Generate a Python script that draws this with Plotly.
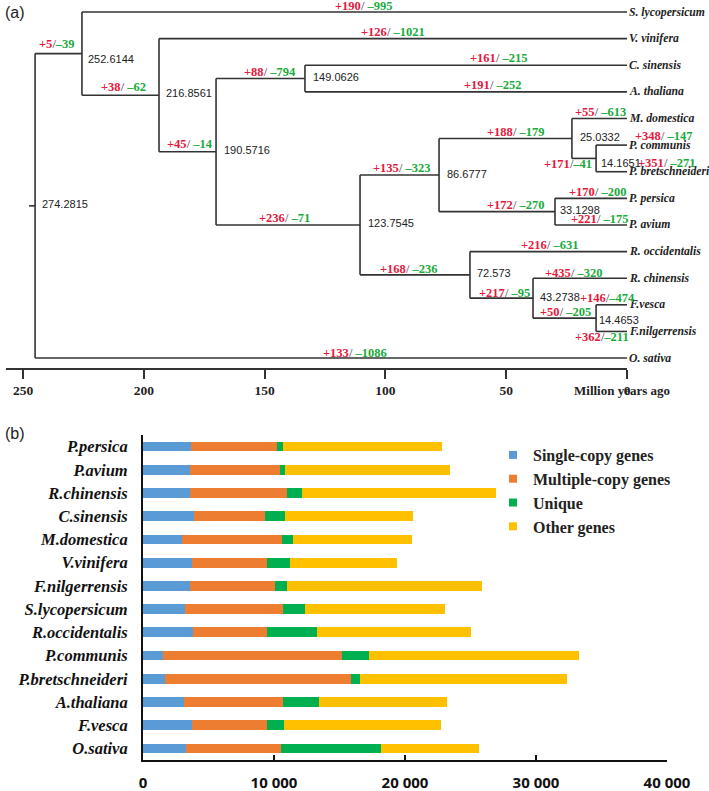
import plotly.graph_objects as go

# ---------------- Panel (a): phylogenetic tree data ----------------
leaves = ["S. lycopersicum", "V. vinifera", "C. sinensis", "A. thaliana", "M. domestica",
          "P. communis", "P. bretschneideri", "P. persica", "P. avium", "R. occidentalis",
          "R. chinensis", "F.vesca", "F.nilgerrensis", "O. sativa"]

node_names = ["N274", "N252", "N216", "N190", "N149", "N123", "N86", "N25", "N14a",
              "N33", "N72", "N43", "N14b"]
node_children = [("N252", "O. sativa"), ("S. lycopersicum", "N216"), ("V. vinifera", "N190"),
                 ("N149", "N123"), ("C. sinensis", "A. thaliana"), ("N86", "N72"),
                 ("N25", "N33"), ("M. domestica", "N14a"), ("P. communis", "P. bretschneideri"),
                 ("P. persica", "P. avium"), ("R. occidentalis", "N43"), ("R. chinensis", "N14b"),
                 ("F.vesca", "F.nilgerrensis")]
# node positions as drawn on the time axis (million years ago)
node_age_drawn = [245.0, 225.6, 193.7, 170.1, 133.3, 110.5, 77.8, 22.8, 12.8, 29.8, 65.0, 38.9, 12.8]
node_age_label = ["274.2815", "252.6144", "216.8561", "190.5716", "149.0626", "123.7545",
                  "86.6777", "25.0332", "14.1651", "33.1298", "72.573", "43.2738", "14.4653"]

branch_child = ["N252", "S. lycopersicum", "N216", "V. vinifera", "N190", "N149", "C. sinensis",
                "A. thaliana", "N123", "N86", "N72", "N25", "N33", "M. domestica", "N14a",
                "P. communis", "P. bretschneideri", "P. persica", "P. avium", "R. occidentalis",
                "N43", "R. chinensis", "N14b", "F.vesca", "F.nilgerrensis", "O. sativa"]
branch_gain = [5, 190, 38, 126, 45, 88, 161, 191, 236, 135, 168, 188, 172, 55, 171,
               348, 351, 170, 221, 216, 217, 435, 50, 146, 362, 133]
branch_loss = [39, 995, 62, 1021, 14, 794, 215, 252, 71, 323, 236, 179, 270, 613, 41,
               147, 271, 200, 175, 631, 95, 320, 205, 474, 211, 1086]

time_ticks = [0, 50, 100, 150, 200, 250]

# ---------------- Panel (b): gene family bars ----------------
species = ["P.persica", "P.avium", "R.chinensis", "C.sinensis", "M.domestica", "V.vinifera",
           "F.nilgerrensis", "S.lycopersicum", "R.occidentalis", "P.communis",
           "P.bretschneideri", "A.thaliana", "F.vesca", "O.sativa"]
single_copy = [3660, 3590, 3590, 3890, 3000, 3740, 3590, 3210, 3840, 1550, 1680, 3130, 3770, 3280]
multiple_copy = [6540, 6870, 7430, 5420, 7610, 5700, 6510, 7510, 5600, 13660, 14200, 7580, 5730, 7250]
unique = [460, 380, 1090, 1550, 870, 1810, 920, 1680, 3870, 2060, 710, 2720, 1250, 7630]
other_genes = [12180, 12570, 14810, 9720, 9060, 8120, 14830, 10660, 11700, 16000, 15750, 9750, 11980, 7480]
series_names = ["Single-copy genes", "Multiple-copy genes", "Unique", "Other genes"]
gene_ticks = [0, 10000, 20000, 30000, 40000]
gene_ticktext = ["0", "10 000", "20 000", "30 000", "40 000"]

# ---------------- styles / layout helpers ----------------
W, H = 709, 791
RED, GREEN = "#e8173d", "#1aab3c"
LINE = "#333333"
SERIF = "Liberation Serif"
SANS = "Liberation Sans"
colors = ["#5b9bd5", "#ed7d31", "#00b050", "#ffc000"]

# gain/loss label pixel offsets relative to branch midpoint (dx, dy up), compact slash flag
gl_offsets = {
    "N252": (-2, 10, True), "S. lycopersicum": (9.5, 6, False), "N216": (3, 8, False),
    "V. vinifera": (0, 6.6, False), "N190": (2.5, 7.8, False), "N149": (9.5, 6.6, False),
    "C. sinensis": (32.5, 7, False), "A. thaliana": (26.5, 7, False), "N123": (-4, 7, False),
    "N86": (1.5, 7, False), "N72": (-7, 6, False), "N25": (10, 6.4, False),
    "N33": (18.5, 6.7, False), "M. domestica": (1, 6.5, False), "N14a": (-16, -5.6, True),
    "P. communis": (52, 9, False), "P. bretschneideri": (55, 8.7, False),
    "P. persica": (6, 6.3, False), "P. avium": (8, 6, False), "R. occidentalis": (1.5, 6.6, False),
    "N43": (3, 5.2, False), "R. chinensis": (-6.5, 5.2, False), "N14b": (1, 6, False),
    "F.vesca": (-4.5, 6.8, True), "F.nilgerrensis": (-10, -5.6, True), "O. sativa": (24, 5, False),
}
node_label_offsets = {
    "N274": (5, 2), "N252": (4, -5.5), "N216": (5, 2), "N190": (6, 2), "N149": (6, 1.5),
    "N123": (6, 2), "N86": (6, 1), "N25": (6, 1.4), "N14a": (3, -4.6), "N33": (3, 1.7),
    "N72": (5, 2), "N43": (5, 1), "N14b": (1, -2),
}

# ---------------- tree geometry from the data ----------------
age = {n: 0.0 for n in leaves}
ypos = {n: i for i, n in enumerate(leaves)}
children = dict(zip(node_names, node_children))
parent = {}
for n, a in zip(node_names, node_age_drawn):
    age[n] = a
for n, (c1, c2) in children.items():
    parent[c1] = n
    parent[c2] = n


def y_of(n):
    if n not in ypos:
        c1, c2 = children[n]
        ypos[n] = (y_of(c1) + y_of(c2)) / 2
    return ypos[n]


root = node_names[0]
y_of(root)

lx, ly = [], []
for n in node_names:
    c1, c2 = children[n]
    lx += [age[n], age[n], None]
    ly += [y_of(c1), y_of(c2), None]
    for c in (c1, c2):
        lx += [age[n], age[c], None]
        ly += [y_of(c), y_of(c), None]
# short root stem
lx += [age[root], age[root] + 2.5, None]
ly += [y_of(root), y_of(root), None]

fig = go.Figure()
fig.add_trace(go.Scatter(x=lx, y=ly, mode="lines", line=dict(color=LINE, width=1.6),
                         hoverinfo="skip", showlegend=False, xaxis="x", yaxis="y"))

annotations = []
# leaf names
for n in leaves:
    annotations.append(dict(x=0, y=ypos[n], xref="x", yref="y", text=f"<b><i>{n}</i></b>",
                            showarrow=False, xanchor="left", yanchor="middle", xshift=0,
                            font=dict(family=SERIF, size=11.7, color="#222")))
# node ages
for n, lab in zip(node_names, node_age_label):
    dx, dy = node_label_offsets[n]
    annotations.append(dict(x=age[n], y=ypos[n], xref="x", yref="y", text=lab, showarrow=False,
                            xanchor="left", yanchor="middle", xshift=dx, yshift=dy,
                            font=dict(family=SANS, size=11, color="#222")))
# gains / losses
for c, g, l in zip(branch_child, branch_gain, branch_loss):
    dx, dy, compact = gl_offsets[c]
    p = parent[c]
    sep = "/" if compact else "/ "
    txt = (f'<b><span style="color:{RED}">+{g}</span></b>'
           f'<span style="color:#333">{sep}</span>'
           f'<b><span style="color:{GREEN}">\u2013{l}</span></b>')
    annotations.append(dict(x=(age[p] + age[c]) / 2, y=ypos[c], xref="x", yref="y", text=txt,
                            showarrow=False, xanchor="center", yanchor="middle",
                            xshift=dx, yshift=dy, font=dict(family=SERIF, size=12.5)))

annotations += [
    dict(x=622 / W, y=1 - 391 / H, xref="paper", yref="paper", text="<b>Million years ago</b>",
         showarrow=False, xanchor="center", yanchor="middle",
         font=dict(family=SERIF, size=13, color="#222")),
    dict(x=3 / W, y=1 - 13 / H, xref="paper", yref="paper", text="(a)", showarrow=False,
         xanchor="left", yanchor="middle", font=dict(family=SANS, size=16, color="#222")),
    dict(x=3 / W, y=1 - 433 / H, xref="paper", yref="paper", text="(b)", showarrow=False,
         xanchor="left", yanchor="middle", font=dict(family=SANS, size=16, color="#222")),
]

# ---------------- bars ----------------
for name, vals, col in zip(series_names, [single_copy, multiple_copy, unique, other_genes], colors):
    fig.add_trace(go.Bar(y=species, x=vals, orientation="h", name=name, marker=dict(color=col, line=dict(width=0)),
                         xaxis="x2", yaxis="y2", showlegend=False))
    fig.add_trace(go.Scatter(x=[None], y=[None], mode="markers", name=name,
                             marker=dict(symbol="square", size=8, color=col),
                             xaxis="x2", yaxis="y2", showlegend=True))

fig.update_layout(
    width=W, height=H, margin=dict(l=0, r=0, t=0, b=0, autoexpand=False), autosize=False,
    paper_bgcolor="white", plot_bgcolor="white",
    barmode="stack", bargap=0.58,
    annotations=annotations,
    xaxis=dict(domain=[6 / W, 627 / W], range=[(627 - 6) / 2.416, 0], anchor="y", automargin=False,
               showline=True, linecolor=LINE, linewidth=2, ticks="outside", ticklen=9,
               tickwidth=1.5, tickcolor=LINE, tickvals=time_ticks, showgrid=False,
               zeroline=False, tickfont=dict(family=SERIF, size=13.5, color="#222", weight="bold")),
    yaxis=dict(domain=[1 - 368 / H, 1], range=[(368 - 12) / 26.62, -12 / 26.62], anchor="x",
               automargin=False, visible=False, showgrid=False, zeroline=False),
    xaxis2=dict(domain=[143 / W, 667 / W], range=[0, 40000], anchor="y2", automargin=False,
                showline=True, linecolor="#111", linewidth=2, ticks="inside", ticklen=5,
                tickwidth=2, tickcolor="#111", tickvals=gene_ticks, ticktext=gene_ticktext,
                showgrid=False, zeroline=False, ticklabelstandoff=8,
                tickfont=dict(family="Open Sans", size=15, color="#111", weight="bold")),
    yaxis2=dict(domain=[1 - 760 / H, 1 - 435 / H], anchor="x2", automargin=False,
                categoryorder="array", categoryarray=species, autorange="reversed",
                showline=True, linecolor="#111", linewidth=2, ticks="", showgrid=False,
                ticklabelstandoff=10,
                tickfont=dict(family=SERIF, size=16.5, color="#111", weight="bold", style="italic")),
    legend=dict(x=493 / W, y=1 - 438 / H, xanchor="left", yanchor="top", traceorder="normal",
                bgcolor="rgba(0,0,0,0)", borderwidth=0, itemclick=False,
                font=dict(family=SERIF, size=16, color="#222", weight="bold")),
)

fig.write_html(
    "out.html",
    config={"responsive": False, "displayModeBar": False},
    post_script="document.body.style.margin='0';document.body.style.padding='0';"
                "document.body.style.overflow='hidden';",
)
